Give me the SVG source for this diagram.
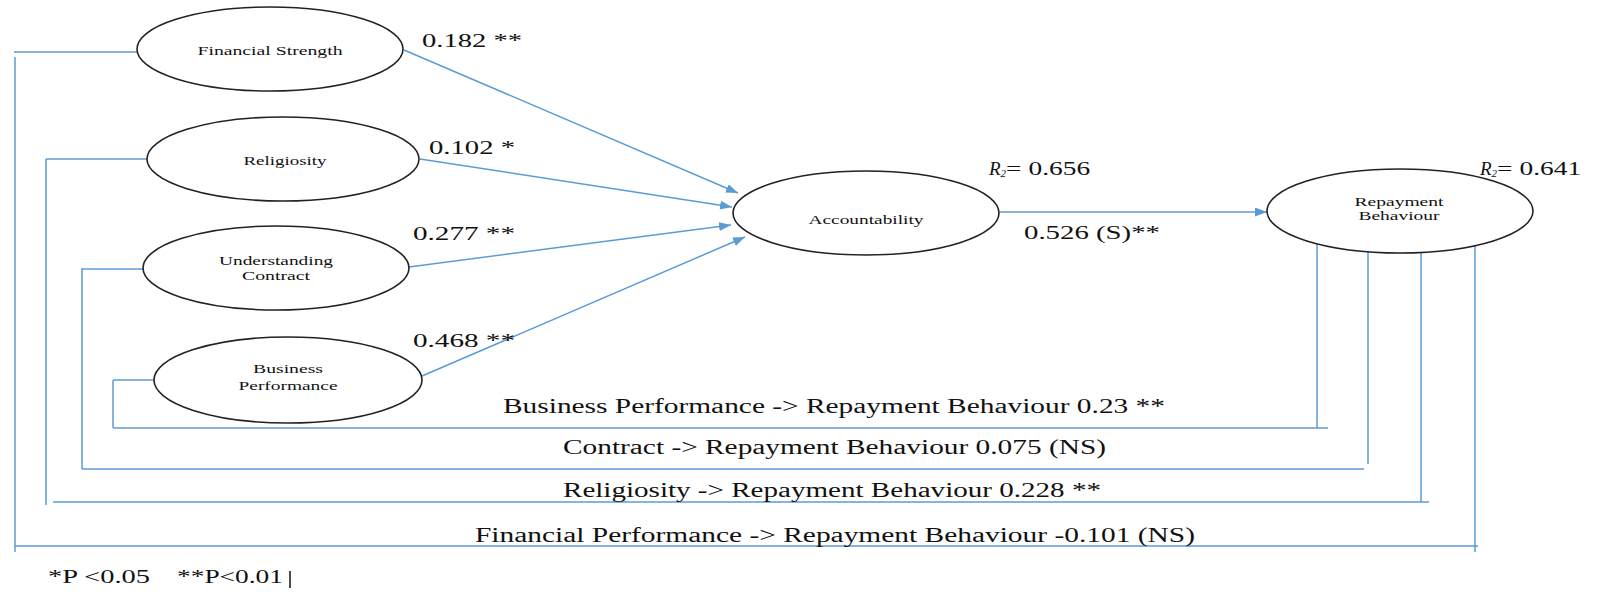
<svg xmlns="http://www.w3.org/2000/svg" width="1603" height="592" viewBox="0 0 1603 592">
<style>
.node ellipse{fill:#fff;stroke:#222;stroke-width:1.6}
.nt{font-family:"Liberation Serif","Times New Roman",serif;font-size:13px;fill:#111;text-anchor:middle}
.lbl{font-family:"Liberation Serif","Times New Roman",serif;font-size:19px;fill:#111}
.blbl{font-family:"Liberation Serif","Times New Roman",serif;font-size:20px;fill:#111}
.foot{font-family:"Liberation Serif","Times New Roman",serif;font-size:18px;fill:#111}
.conn line,.conn path{stroke:#5B9BD5;stroke-width:1.5;fill:none}
</style>
<defs>
<marker id="arr" markerUnits="userSpaceOnUse" markerWidth="13" markerHeight="9" refX="12" refY="4.5" orient="auto">
<path d="M0,0 L12,4.5 L0,9 z" fill="#5B9BD5"/>
</marker>
</defs>
<rect width="1603" height="592" fill="#fff"/>
<g id="connectors" class="conn">
<line x1="404" y1="50" x2="738" y2="193" marker-end="url(#arr)"/>
<line x1="420" y1="159" x2="732" y2="207" marker-end="url(#arr)"/>
<line x1="409" y1="267" x2="731" y2="225" marker-end="url(#arr)"/>
<line x1="422" y1="376" x2="745" y2="237" marker-end="url(#arr)"/>
<line x1="1000" y1="212" x2="1267" y2="212" marker-end="url(#arr)"/>
<path d="M14,52 H137"/>
<path d="M15,57 V552"/>
<path d="M15,546 H1478"/>
<path d="M1475,246 V552"/>
<path d="M46,159 H147"/>
<path d="M46,159 V505"/>
<path d="M53,502 H1429"/>
<path d="M1421,252 V502"/>
<path d="M81,269 H143"/>
<path d="M82,269 V469"/>
<path d="M82,469 H1364"/>
<path d="M1368,252 V464"/>
<path d="M113,380 H154"/>
<path d="M113,380 V428"/>
<path d="M113,428 H1328"/>
<path d="M1317,244 V428"/>
</g>
<g id="financial-strength" class="node">
<ellipse cx="270" cy="49" rx="133" ry="42"/>
<text class="nt" x="270" y="55" textLength="145" lengthAdjust="spacingAndGlyphs">Financial Strength</text>
</g>
<g id="religiosity" class="node">
<ellipse cx="283" cy="159" rx="136" ry="42"/>
<text class="nt" x="285" y="165" textLength="83" lengthAdjust="spacingAndGlyphs">Religiosity</text>
</g>
<g id="understanding-contract" class="node">
<ellipse cx="276" cy="268" rx="133" ry="42"/>
<text class="nt" x="276" y="265" textLength="114" lengthAdjust="spacingAndGlyphs">Understanding</text>
<text class="nt" x="276" y="280" textLength="68" lengthAdjust="spacingAndGlyphs">Contract</text>
</g>
<g id="business-performance" class="node">
<ellipse cx="288" cy="380" rx="134" ry="43"/>
<text class="nt" x="288" y="373" textLength="70" lengthAdjust="spacingAndGlyphs">Business</text>
<text class="nt" x="288" y="390" textLength="99" lengthAdjust="spacingAndGlyphs">Performance</text>
</g>
<g id="accountability" class="node">
<ellipse cx="866" cy="213" rx="133" ry="42"/>
<text class="nt" x="866" y="224" textLength="115" lengthAdjust="spacingAndGlyphs">Accountability</text>
</g>
<g id="repayment-behaviour" class="node">
<ellipse cx="1400" cy="211" rx="133" ry="42"/>
<text class="nt" x="1399" y="206" textLength="89" lengthAdjust="spacingAndGlyphs">Repayment</text>
<text class="nt" x="1399" y="220" textLength="81" lengthAdjust="spacingAndGlyphs">Behaviour</text>
</g>
<g id="labels">
<text class="lbl" x="422" y="47" textLength="100" lengthAdjust="spacingAndGlyphs">0.182 **</text>
<text class="lbl" x="429" y="154" textLength="86" lengthAdjust="spacingAndGlyphs">0.102 *</text>
<text class="lbl" x="413" y="240" textLength="102" lengthAdjust="spacingAndGlyphs">0.277 **</text>
<text class="lbl" x="413" y="347" textLength="102" lengthAdjust="spacingAndGlyphs">0.468 **</text>
<text class="lbl" x="989" y="175"><tspan font-style="italic">R</tspan><tspan font-style="italic" font-size="11" dy="2">2</tspan><tspan dy="-2" textLength="84" lengthAdjust="spacingAndGlyphs">= 0.656</tspan></text>
<text class="lbl" x="1024" y="239" textLength="136" lengthAdjust="spacingAndGlyphs">0.526 (S)**</text>
<text class="lbl" x="1480" y="175"><tspan font-style="italic">R</tspan><tspan font-style="italic" font-size="11" dy="2">2</tspan><tspan dy="-2" textLength="84" lengthAdjust="spacingAndGlyphs">= 0.641</tspan></text>
<text class="blbl" x="503" y="413" textLength="662" lengthAdjust="spacingAndGlyphs">Business Performance -&gt; Repayment Behaviour 0.23 **</text>
<text class="blbl" x="563" y="454" textLength="543" lengthAdjust="spacingAndGlyphs">Contract -&gt; Repayment Behaviour 0.075 (NS)</text>
<text class="blbl" x="563" y="497" textLength="538" lengthAdjust="spacingAndGlyphs">Religiosity -&gt; Repayment Behaviour 0.228 **</text>
<text class="blbl" x="475" y="542" textLength="720" lengthAdjust="spacingAndGlyphs">Financial Performance -&gt; Repayment Behaviour -0.101 (NS)</text>
<text class="foot" x="48" y="583" textLength="102" lengthAdjust="spacingAndGlyphs">*P &lt;0.05</text>
<text class="foot" x="177" y="583" textLength="106" lengthAdjust="spacingAndGlyphs">**P&lt;0.01</text>
<line x1="290" y1="571" x2="290" y2="588" stroke="#111" stroke-width="1.5"/>
</g>
</svg>
